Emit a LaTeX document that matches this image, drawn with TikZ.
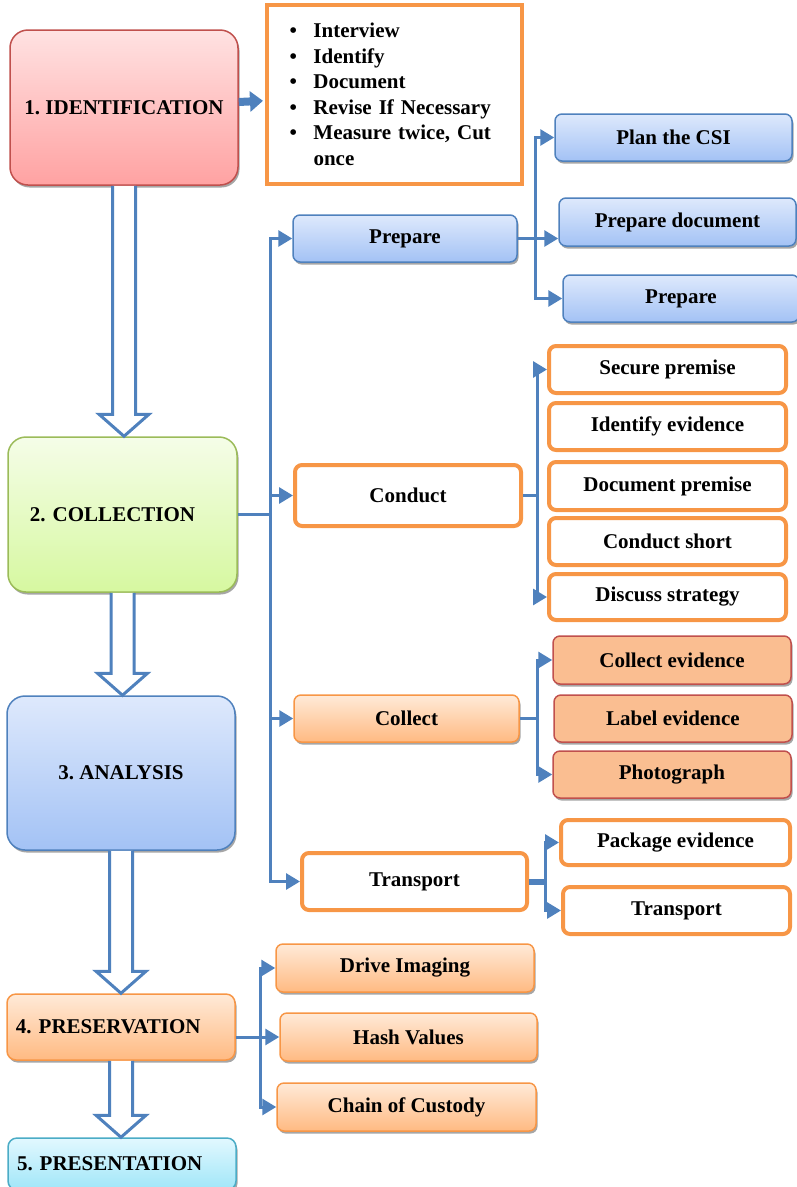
\documentclass[tikz,border=0pt]{standalone}
\usepackage{fontspec}
\setmainfont{Liberation Serif}
\usetikzlibrary{arrows.meta,shadows,calc}

\definecolor{linkblue}{RGB}{79,129,189}
\definecolor{boxorange}{RGB}{247,150,70}
\definecolor{boxred}{RGB}{192,80,77}
\definecolor{boxgreen}{RGB}{155,187,89}
\definecolor{boxcyan}{RGB}{75,172,198}
\definecolor{peach}{RGB}{250,190,145}
\definecolor{bluetop}{RGB}{222,233,252}
\definecolor{bluebot}{RGB}{163,194,245}
\definecolor{redtop}{RGB}{255,226,226}
\definecolor{redbot}{RGB}{255,162,162}
\definecolor{greentop}{RGB}{245,253,232}
\definecolor{greenbot}{RGB}{214,248,160}
\definecolor{orangetop}{RGB}{255,234,216}
\definecolor{orangebot}{RGB}{255,186,130}
\definecolor{cyantop}{RGB}{226,248,255}
\definecolor{cyanbot}{RGB}{160,230,248}

\newcommand{\bitem}{\makebox[24pt][l]{\textbullet}}
% hollow block arrow between two stages
\newcommand{\stagearrow}[2]{%
	\draw[hollow] ($(#1.south)+(-11.5,0)$) -- ($(#1.south |- #2.north)+(-11.5,-22)$)
		-- ($(#1.south |- #2.north)+(-25,-22)$) -- (#1.south |- #2.north)
		-- ($(#1.south |- #2.north)+(25,-22)$) -- ($(#1.south |- #2.north)+(11.5,-22)$)
		-- ($(#1.south)+(11.5,0)$);}

\tikzset{%
	shade/.style    = {drop shadow={shadow xshift=1.5pt, shadow yshift=-2.5pt, fill=black!35, opacity=1}},
	stage/.style    = {draw, rounded corners=18pt, line width=1.5pt, minimum width=228pt,
		inner sep=0pt, font=\bfseries\fontsize{21}{24}\selectfont, shade},
	task/.style     = {rounded corners=7pt, inner sep=0pt, minimum height=47pt,
		font=\bfseries\fontsize{21}{24}\selectfont},
	bluetask/.style = {task, draw=linkblue, line width=1.5pt, top color=bluetop, bottom color=bluebot, shade},
	orangetask/.style = {task, draw=boxorange, line width=1.5pt, top color=orangetop, bottom color=orangebot, shade},
	redtask/.style  = {task, draw=boxred, line width=1.5pt, fill=peach, shade},
	opentask/.style = {task, draw=boxorange, line width=4pt, fill=white},
	bullets/.style  = {draw=boxorange, line width=4pt, fill=white, minimum width=255pt, minimum height=179pt,
		text width=210pt, inner sep=0pt, align=left, font=\bfseries\fontsize{21}{25.5}\selectfont},
	link/.style     = {draw=linkblue, line width=3pt, -{Triangle[length=14pt,width=16pt]}},
	plain/.style    = {draw=linkblue, line width=3pt},
	hollow/.style   = {draw=linkblue, line width=3pt, fill=white}
}

\begin{document}
\frenchspacing
\begin{tikzpicture}[x=1pt,y=-1pt]
	\useasboundingbox (0,0) rectangle (796,1187);

	% stages
	\node[stage, draw=boxred, top color=redtop, bottom color=redbot, minimum height=155pt] (identification) at (124,107.5) {1. IDENTIFICATION};
	\node[stage, draw=boxgreen, top color=greentop, bottom color=greenbot, minimum width=229pt, minimum height=155pt,
		text width=185pt, align=left, inner xsep=22pt] (collection) at (122.5,514.5) {2. COLLECTION};
	\node[stage, draw=linkblue, top color=bluetop, bottom color=bluebot, minimum height=154pt] (analysis) at (121,773) {3. ANALYSIS};
	\node[stage, draw=boxorange, top color=orangetop, bottom color=orangebot, rounded corners=9pt, minimum height=66pt,
		text width=210pt, align=left, inner xsep=9pt] (preservation) at (121,1027) {4. PRESERVATION};
	\node[stage, draw=boxcyan, top color=cyantop, bottom color=cyanbot, rounded corners=9pt, minimum height=52pt,
		text width=210pt, align=left, inner xsep=9pt] (presentation) at (122,1164) {5. PRESENTATION};

	\node[bullets] (bullets) at (394.5,94.5) {\bitem Interview\\ \bitem Identify\\ \bitem Document\\
		\bitem Revise If Necessary\\ \bitem\makebox[186pt][s]{Measure twice, Cut}\\ \hspace*{24pt}once};

	% collection steps
	\node[bluetask, minimum width=224pt] (prepare) at (405,238.5) {Prepare};
	\node[opentask, minimum width=226pt, minimum height=61pt] (conduct) at (408,495.5) {Conduct};
	\node[orangetask, minimum width=225pt] (collect) at (406.5,718.5) {Collect};
	\node[opentask, minimum width=225pt, minimum height=57pt] (transport) at (414.5,881.5) {Transport};

	\node[bluetask, minimum width=237pt] (plancsi) at (673.5,137.5) {Plan the CSI};
	\node[bluetask, minimum width=237pt, minimum height=48pt] (prepdoc) at (677.5,222) {Prepare document};
	\node[bluetask, minimum width=236pt] (prepshort) at (681,298.5) {Prepare};

	\node[opentask, minimum width=237pt] (secure) at (667.5,369.5) {Secure premise};
	\node[opentask, minimum width=237pt] (identify) at (667.5,426.5) {Identify evidence};
	\node[opentask, minimum width=237pt, minimum height=48pt] (docpremise) at (667.5,486) {Document premise};
	\node[opentask, minimum width=237pt] (short) at (667.5,541.5) {Conduct short};
	\node[opentask, minimum width=237pt, minimum height=46pt] (discuss) at (667.5,597) {Discuss strategy};

	\node[redtask, minimum width=238pt, minimum height=48pt] (collectev) at (672,660) {Collect evidence};
	\node[redtask, minimum width=238pt] (label) at (673,718.5) {Label evidence};
	\node[redtask, minimum width=238pt] (photo) at (672,774.5) {Photograph};

	\node[opentask, minimum width=229pt, minimum height=45pt] (package) at (675.5,842.5) {Package evidence};
	\node[opentask, minimum width=227pt] (transsub) at (676.5,910.5) {Transport};

	% preservation steps
	\node[orangetask, minimum width=258pt, minimum height=48pt] (drive) at (405,968) {Drive Imaging};
	\node[orangetask, minimum width=257pt, minimum height=48pt] (hash) at (408.5,1037) {Hash Values};
	\node[orangetask, minimum width=259pt, minimum height=48pt] (chain) at (406.5,1107) {Chain of Custody};

	% stage flow
	\stagearrow{identification}{collection}
	\stagearrow{collection}{analysis}
	\stagearrow{analysis}{preservation}
	\stagearrow{preservation}{presentation}
	\draw[linkblue, line width=8pt, -{Triangle[length=13pt,width=20pt]}, shorten >=2pt] (identification) -- (bullets);

	% connectors
	\coordinate (trunk) at (270,514.5);
	\draw[plain] (collection) -- (trunk);
	\draw[link] (trunk) |- (prepare);
	\draw[link] (trunk) |- (conduct);
	\draw[link] (trunk) |- (collect);
	\draw[link] (trunk) |- (transport);

	\coordinate (ptrunk) at (535,238.5);
	\draw[plain] (prepare) -- (ptrunk);
	\draw[link] (ptrunk) -- (prepdoc.west |- ptrunk);
	\draw[link] (ptrunk) |- (plancsi);
	\draw[link] (ptrunk) |- (prepshort);

	\coordinate (ctrunk) at (537,495.5);
	\draw[plain] (conduct) -- (ctrunk);
	\draw[link] (ctrunk) |- (secure);
	\draw[link] (ctrunk) |- (discuss);

	\coordinate (cltrunk) at (537,718.5);
	\draw[plain] (collect) -- (cltrunk);
	\draw[link] (cltrunk) |- (collectev);
	\draw[link] (cltrunk) |- (photo);

	\coordinate (ttrunk) at (545,881.5);
	\draw[plain, line width=6pt] (transport) -- (ttrunk);
	\draw[link] (ttrunk) |- (package);
	\draw[link] (ttrunk) |- (transsub);

	\coordinate (prtrunk) at (260,1037);
	\draw[link] (preservation.east |- hash) -- (hash);
	\draw[link] (prtrunk) |- (drive);
	\draw[link] (prtrunk) |- (chain);
\end{tikzpicture}
\end{document}
